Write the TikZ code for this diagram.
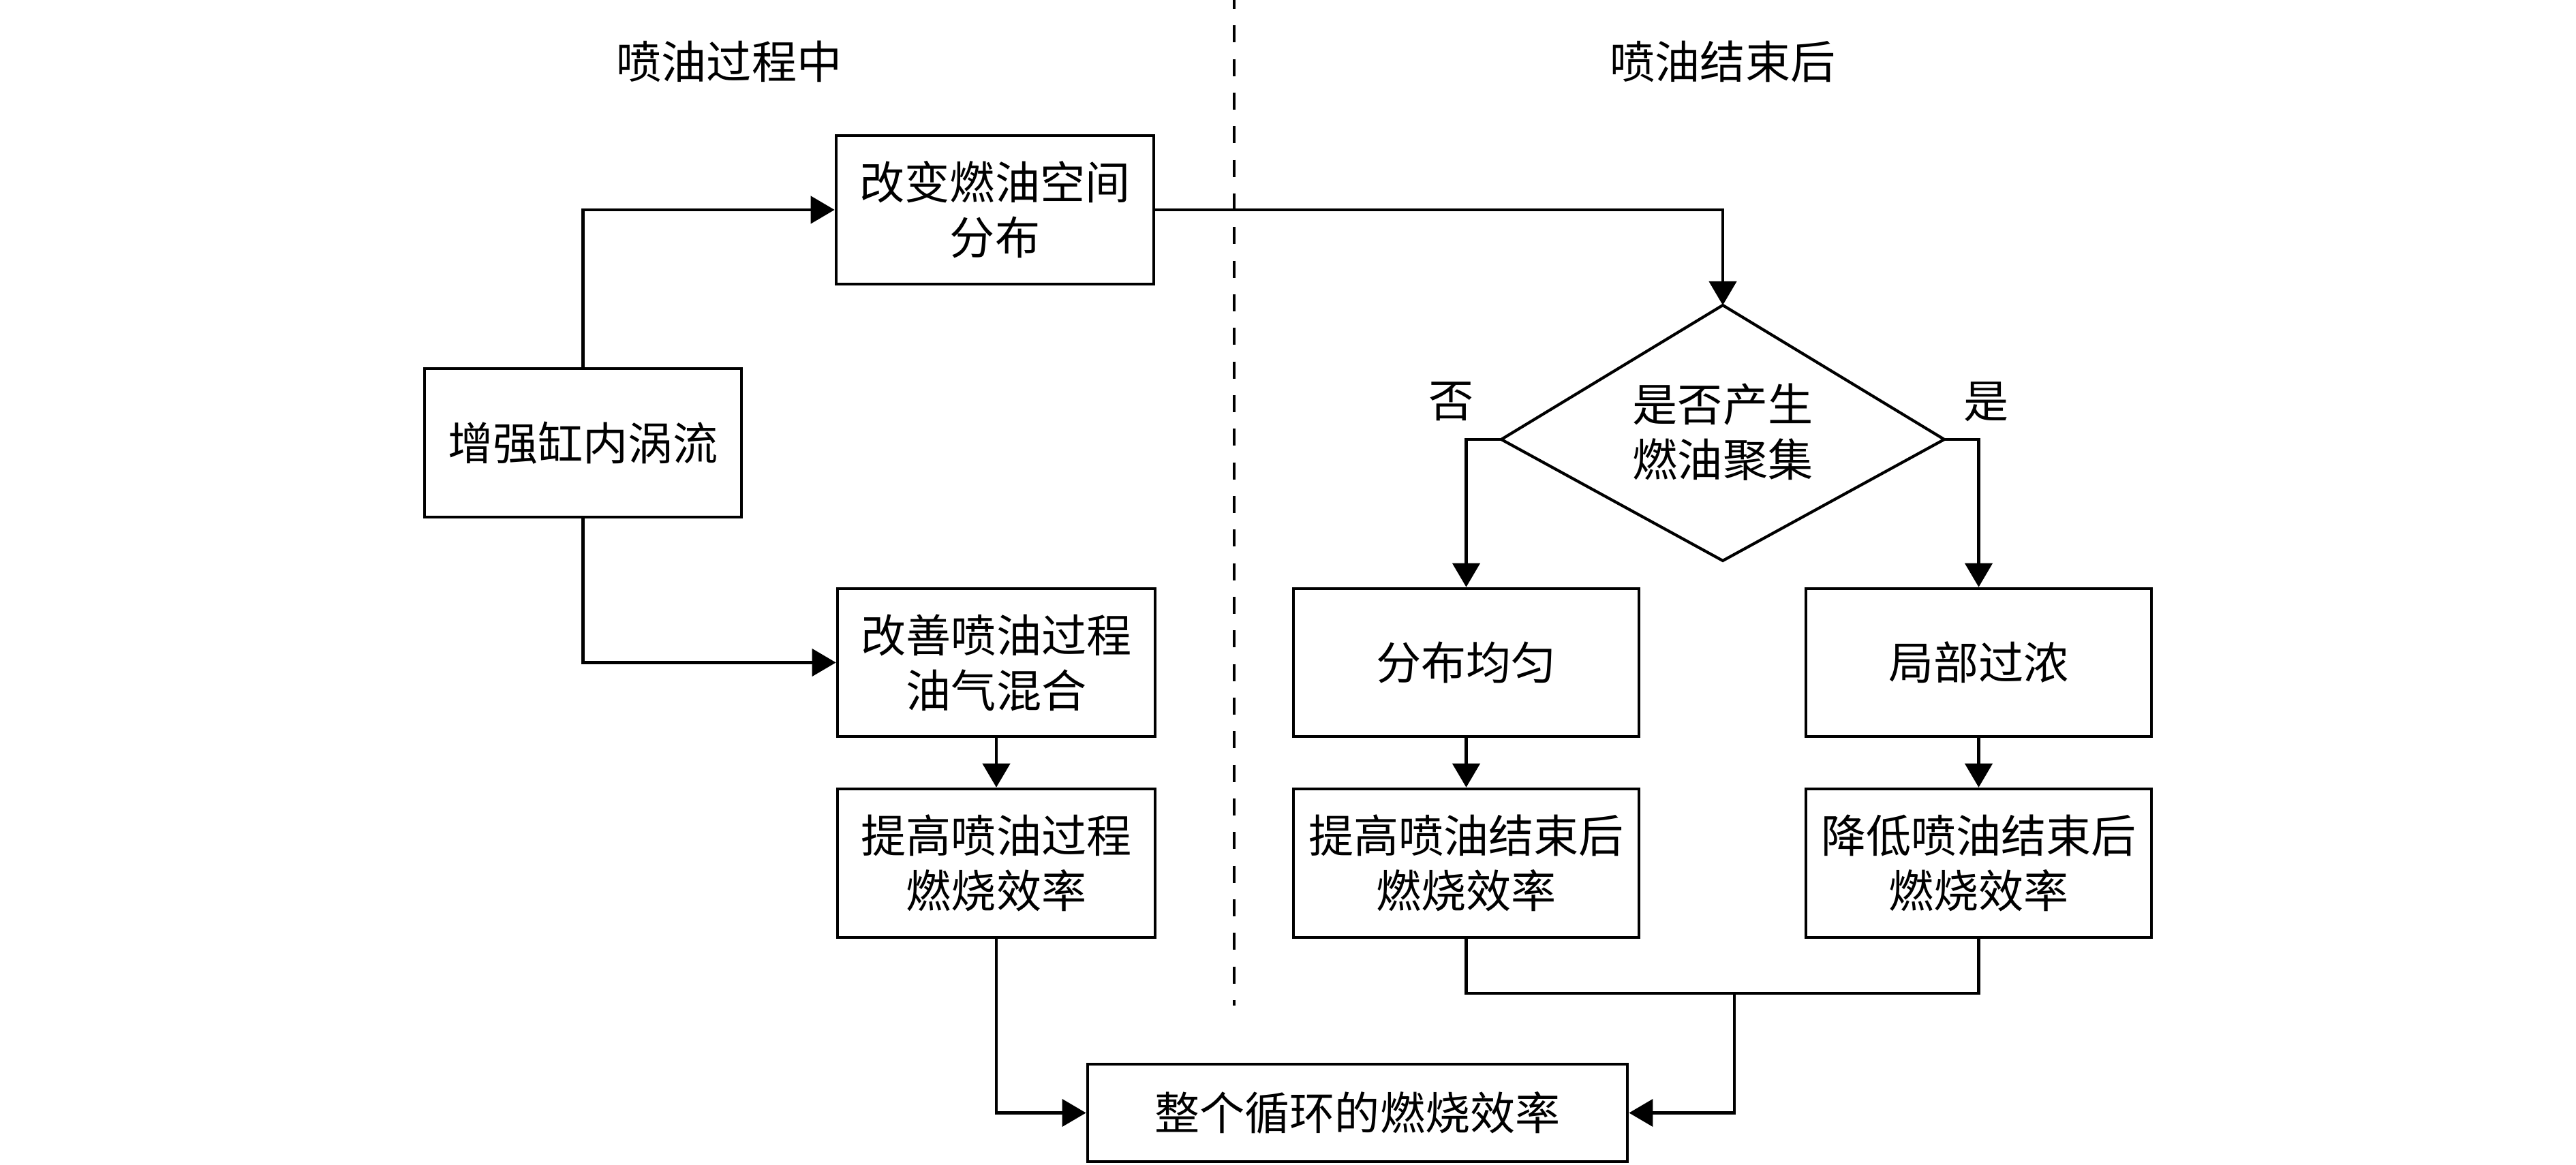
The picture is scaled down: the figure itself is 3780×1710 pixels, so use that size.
\documentclass[tikz,border=0pt]{standalone}
\usepackage{fontspec}
\newfontfamily\cjk{Noto Sans CJK SC}
\usetikzlibrary{arrows.meta}
\begin{document}
\begin{tikzpicture}[x=0.01cm,y=-0.01cm,
  every node/.style={font=\cjk\fontsize{18.8pt}{23pt}\selectfont, inner sep=0pt, align=center},
  box/.style={draw, line width=1.25pt, minimum height=2.17cm},
  narrow/.style={box, minimum width=4.66cm},
  wide/.style={box, minimum width=5.07cm},
  conn/.style={line width=1.2pt},
  arr/.style={conn, -{Triangle[length=0.35cm,width=0.4cm]}},
  lbl/.style={}
]
\useasboundingbox (0,0) rectangle (3780,1710);

% headers
\node[lbl] (h1) at (1070,90) {喷油过程中};
\node[lbl] (h2) at (2528,90) {喷油结束后};

% dashed separator
\coordinate (s1) at (1811,-12);
\coordinate (s2) at (1811,1476);
\draw[conn, dash pattern=on 0.25cm off 0.243cm] (s1) -- (s2);

% left column
\node[box, minimum width=4.65cm, minimum height=2.18cm] (zq) at (855.5,650) {增强缸内涡流};
\node[narrow, minimum height=2.18cm] (gb) at (1460,308) {改变燃油空间\\分布};
\node[narrow] (gs) at (1462,972.5) {改善喷油过程\\油气混合};
\node[narrow, minimum height=2.18cm] (tg) at (1462,1267) {提高喷油过程\\燃烧效率};

% decision
\coordinate (dt) at (2528,448);
\coordinate (dr) at (2853,645);
\coordinate (db) at (2528,823);
\coordinate (dl) at (2203,645);
\draw[line width=1.2pt, line join=miter] (dt) -- (dr) -- (db) -- (dl) -- cycle;
\node (dq) at (2528,634) {是否产生\\燃油聚集};
\node[lbl] (no) at (2130,589) {否};
\node[lbl] (yes) at (2915,590) {是};

% right columns
\node[wide] (fb) at (2151.5,972.5) {分布均匀};
\node[wide] (jb) at (2903.5,972.5) {局部过浓};
\node[wide, minimum height=2.18cm] (tj) at (2151.5,1267) {提高喷油结束后\\燃烧效率};
\node[wide, minimum height=2.18cm] (jd) at (2903.5,1267) {降低喷油结束后\\燃烧效率};

% bottom
\node[box, minimum width=7.92cm, minimum height=1.43cm] (zg) at (1992,1633.5) {整个循环的燃烧效率};

% connectors
\draw[arr] (zq.north) |- (gb.west);
\draw[arr] (zq.south) |- (gs.west);
\draw[arr] (gs) -- (tg);
\draw[arr] (gb.east) -| (dt);
\draw[arr] (dl) -| (fb.north);
\draw[arr] (dr) -| (jb.north);
\draw[arr] (fb) -- (tj);
\draw[arr] (jb) -- (jd);
\coordinate (m) at (2545,1458);
\draw[conn] (tj.south) |- (m);
\draw[conn] (jd.south) |- (m);
\draw[arr] (m) |- (zg.east);
\draw[arr] (tg.south) |- (zg.west);
\end{tikzpicture}
\end{document}
